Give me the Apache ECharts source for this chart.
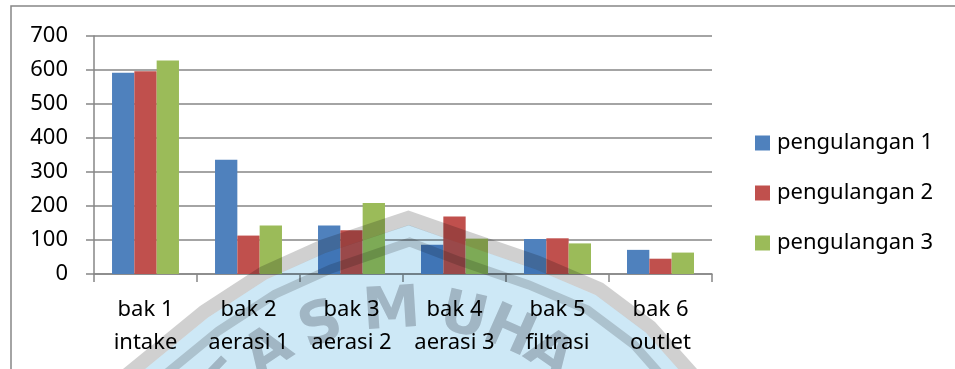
<!DOCTYPE html>
<html>
<head>
<meta charset="utf-8">
<script src="https://cdn.jsdelivr.net/npm/echarts@6/dist/echarts.min.js"></script>
<style>
  html, body { margin: 0; padding: 0; background: #ffffff; }
  #chart { width: 955px; height: 369px; }
</style>
</head>
<body>
<div id="chart"></div>
<script>
// Tanks along the treatment line
const categories = ['bak 1\nintake', 'bak 2\naerasi 1', 'bak 3\naerasi 2', 'bak 4\naerasi 3', 'bak 5\nfiltrasi', 'bak 6\noutlet'];
const seriesNames = ['pengulangan 1', 'pengulangan 2', 'pengulangan 3'];
const pengulangan1 = [592, 336, 143, 86, 103, 71];
const pengulangan2 = [596, 113, 129, 169, 105, 45];
const pengulangan3 = [628, 143, 209, 104, 90, 63];
const yTicks = { min: 0, max: 700, interval: 100 };

const colors = ['#4F81BD', '#C0504D', '#9BBB59'];
const FONT = '"Noto Sans", "Open Sans", sans-serif';
const GRID_COLOR = '#868686';

// --- background emblem (faint logo over the footer area, multiplied in) ---
const emblemEdge = [
  [70, 415], [123, 369], [200, 306], [260, 267], [320, 240], [408, 211],
  [470, 232], [540, 256], [603, 283], [655, 322], [697, 369], [735, 415]
];
function offsetCurve(pts, d) {
  return pts.map(function (p, i) {
    const a = pts[Math.max(0, i - 1)], b = pts[Math.min(pts.length - 1, i + 1)];
    let tx = b[0] - a[0], ty = b[1] - a[1];
    const len = Math.hypot(tx, ty) || 1;
    tx /= len; ty /= len;
    return [p[0] - ty * d, p[1] + tx * d];
  });
}
const bandOuter = offsetCurve(emblemEdge, 7);
const fillTop = offsetCurve(emblemEdge, 14);
const bandInner = offsetCurve(emblemEdge, 31);
const fillPoly = fillTop.concat([[760, 430], [40, 430]]);

// ring lettering, drawn underneath the chart so the blue tint falls over it
const ringLetters = [['T', -46], ['A', -33.5], ['S', -20], ['M', -3.5], ['U', 13], ['H', 24], ['A', 34.5]];
const ringCenter = [407, 562], ringRadius = 250;
const letterEls = ringLetters.map(function (l) {
  const ang = l[1] * Math.PI / 180;
  return {
    type: 'text', silent: true, z: -1,
    x: ringCenter[0] + ringRadius * Math.sin(ang),
    y: ringCenter[1] - ringRadius * Math.cos(ang),
    rotation: -ang,
    style: {
      text: l[0], font: 'bold 58px "DejaVu Sans", sans-serif',
      fill: 'rgb(200,200,203)',
      align: 'center', verticalAlign: 'middle'
    }
  };
});

const chart = echarts.init(document.getElementById('chart'), null, { renderer: 'canvas' });

chart.setOption({
  backgroundColor: '#ffffff',
  animation: false,
  color: colors,
  textStyle: { fontFamily: FONT },
  grid: { left: 94, right: 243, top: 36, bottom: 95, containLabel: false },
  legend: {
    orient: 'vertical',
    left: 755,
    top: 132,
    padding: 0,
    itemWidth: 15,
    itemHeight: 15,
    itemGap: 28,
    icon: 'rect',
    data: seriesNames,
    textStyle: { fontFamily: FONT, fontSize: 22, color: '#000', lineHeight: 20, padding: [0, 0, 0, 2] }
  },
  xAxis: {
    type: 'category',
    data: categories,
    axisLine: { show: true, lineStyle: { color: GRID_COLOR, width: 1.5 } },
    axisTick: { show: true, length: 8, interval: 0, lineStyle: { color: GRID_COLOR, width: 1.5 } },
    axisLabel: { fontFamily: FONT, fontSize: 22, color: '#000', lineHeight: 33, margin: 19, interval: 0 },
    splitLine: { show: false }
  },
  yAxis: {
    type: 'value',
    min: yTicks.min,
    max: yTicks.max,
    interval: yTicks.interval,
    axisLine: { show: true, lineStyle: { color: GRID_COLOR, width: 1.5 } },
    axisTick: { show: true, length: 8, lineStyle: { color: GRID_COLOR, width: 1.5 } },
    axisLabel: { fontFamily: FONT, fontSize: 22, color: '#000', margin: 26 },
    splitLine: { show: true, lineStyle: { color: GRID_COLOR, width: 1.5 } }
  },
  series: [
    { name: seriesNames[0], type: 'bar', data: pengulangan1, barGap: '0%', barCategoryGap: '35%' },
    { name: seriesNames[1], type: 'bar', data: pengulangan2, barGap: '0%', barCategoryGap: '35%' },
    { name: seriesNames[2], type: 'bar', data: pengulangan3, barGap: '0%', barCategoryGap: '35%' }
  ],
  graphic: [
    {
      type: 'rect', silent: true, z: -1,
      shape: { x: 11, y: 6, width: 1100, height: 500 },
      style: { fill: null, stroke: GRID_COLOR, lineWidth: 1.5 }
    },
    {
      type: 'polygon', silent: true, z: 100,
      shape: { points: fillPoly },
      style: { fill: 'rgb(205,232,246)', blend: 'multiply' }
    },
    {
      type: 'polyline', silent: true, z: 101,
      shape: { points: bandOuter },
      style: { fill: null, stroke: 'rgb(208,208,208)', lineWidth: 14, lineJoin: 'miter', blend: 'multiply' }
    },
    {
      type: 'polyline', silent: true, z: 101,
      shape: { points: bandInner },
      style: { fill: null, stroke: 'rgb(214,214,214)', lineWidth: 9, lineJoin: 'miter', blend: 'multiply' }
    }
  ].concat(letterEls)
});
</script>
</body>
</html>
